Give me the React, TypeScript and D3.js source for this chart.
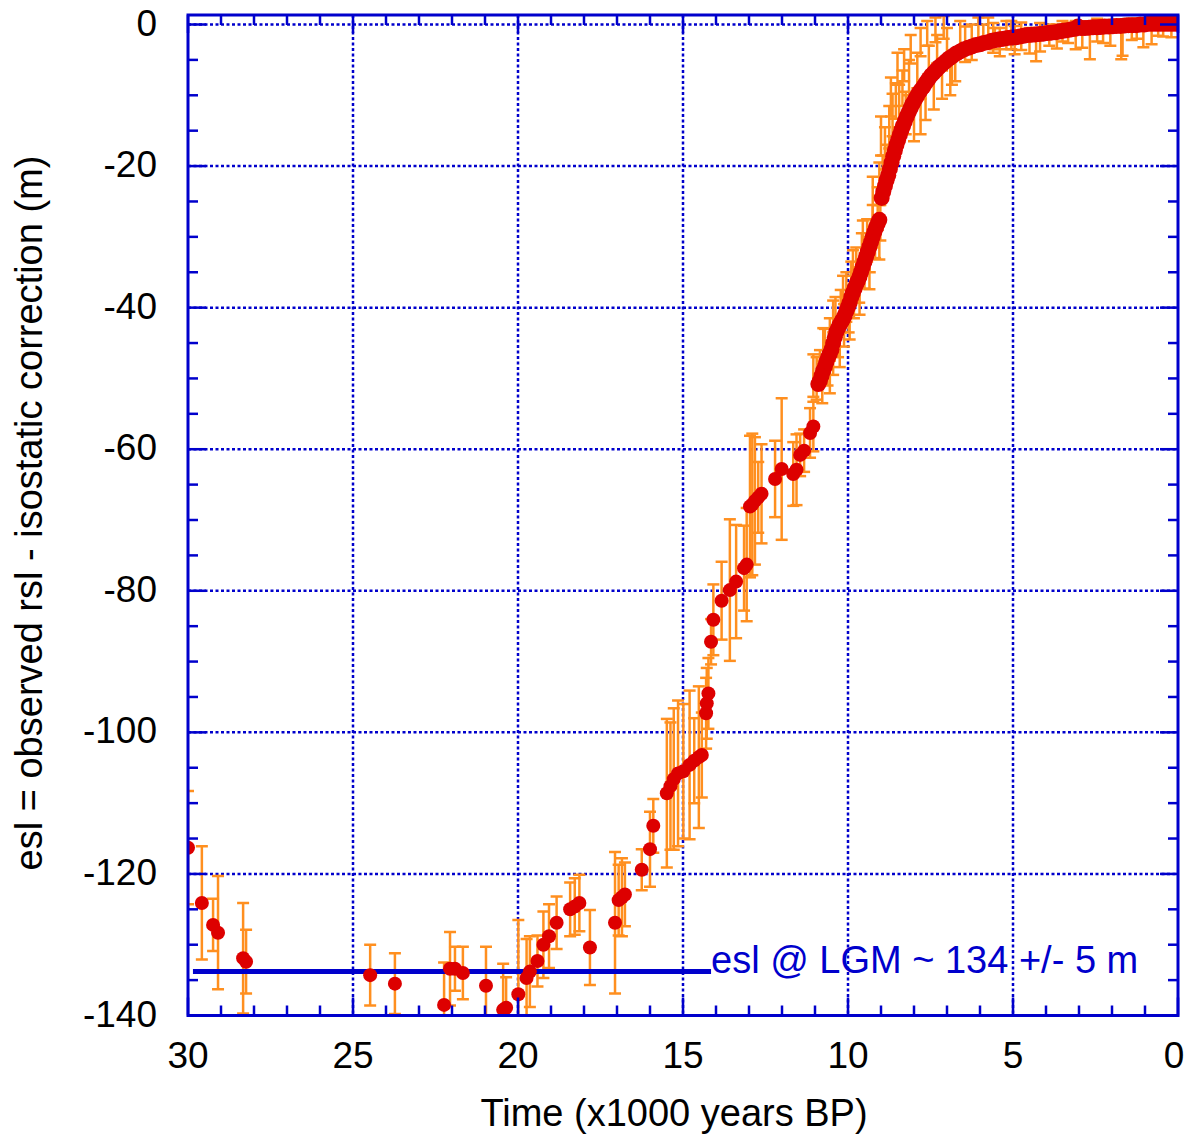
import React from "react";
import * as d3 from "d3";

// ---- Sparse data (dot + symmetric error bar) : age (kyr BP), esl (m), error (m)
const sparseAge = [30.0, 29.58, 29.24, 29.09, 28.33, 28.24, 24.48, 23.73, 22.24, 22.06, 21.91, 21.67, 20.97, 20.45, 20.36, 19.99, 19.74, 19.64, 19.41, 19.23, 19.06, 18.83, 18.42, 18.28, 18.14, 17.82, 17.06, 16.95, 16.85, 16.76, 16.25, 16.0, 15.9, 15.49, 15.38, 15.28, 15.15, 14.99, 14.8, 14.66, 14.52, 14.43, 14.3, 14.28, 14.23, 14.15, 14.08, 13.83, 13.58, 13.39, 13.15, 13.07, 12.97, 12.9, 12.82, 12.72, 12.62, 12.21, 12.01, 11.66, 11.56, 11.45, 11.33, 11.15, 11.05];
const sparseEsl = [-116.3, -124.1, -127.2, -128.3, -131.9, -132.4, -134.3, -135.5, -138.5, -133.4, -133.4, -134.0, -135.8, -139.2, -138.9, -137.0, -134.7, -133.8, -132.3, -130.0, -128.8, -126.9, -125.0, -124.6, -124.1, -130.4, -126.9, -123.7, -123.3, -122.9, -119.4, -116.5, -113.2, -108.6, -107.6, -106.6, -105.8, -105.5, -104.6, -104.0, -103.5, -103.2, -97.3, -95.9, -94.5, -87.2, -84.1, -81.4, -79.9, -78.7, -76.8, -76.3, -68.1, -67.8, -67.3, -66.8, -66.3, -64.2, -62.8, -63.5, -62.9, -60.8, -60.2, -57.7, -56.8];
const sparseErr = [8, 8, 3.7, 8, 7.8, 4.5, 4.3, 4.3, 6, 5.2, 3.1, 3.7, 5.5, 6.5, 4.3, 10.5, 5.5, 5, 3.6, 4.7, 4.5, 3.7, 3.8, 4, 4, 5.3, 10, 5, 5.5, 4.5, 2.9, 5.3, 3.8, 10.5, 9, 10, 10.3, 9.5, 10.5, 6, 10, 6, 5, 5, 5, 3.2, 5, 5.5, 10, 8, 6, 8, 10, 10, 9, 5, 7, 5.4, 10, 4.5, 5, 3, 3, 3.5, 3.5];

// ---- Dense Holocene / deglacial dots
const curveAge = [10.9, 10.85, 10.8, 10.75, 10.7, 10.65, 10.6, 10.55, 10.5, 10.45, 10.4, 10.35, 10.3, 10.25, 10.2, 10.15, 10.1, 10.05, 10.0, 9.95, 9.9, 9.85, 9.8, 9.75, 9.7, 9.65, 9.6, 9.55, 9.5, 9.45, 9.4, 9.35, 9.3, 9.25, 9.2, 9.15, 9.1, 9.05, 8.98, 8.93, 8.88, 8.83, 8.78, 8.73, 8.68, 8.63, 8.58, 8.53, 8.48, 8.43, 8.38, 8.33, 8.28, 8.22, 8.16, 8.1, 8.04, 7.98, 7.92, 7.86, 7.8, 7.72, 7.64, 7.56, 7.48, 7.4, 7.32, 7.24, 7.14, 7.04, 6.94, 6.84, 6.72, 6.6, 6.48, 6.36, 6.24, 6.12, 6.0, 5.88, 5.76, 5.64, 5.52, 5.4, 5.28, 5.16, 5.04, 4.92, 4.8, 4.68, 4.56, 4.44, 4.32, 4.2, 4.08, 3.96, 3.84, 3.72, 3.6, 3.48, 3.36, 3.24, 3.12, 3.03, 2.94, 2.82, 2.7, 2.58, 2.46, 2.34, 2.22, 2.1, 1.98, 1.86, 1.74, 1.62, 1.5, 1.38, 1.26, 1.14, 1.02, 0.9, 0.78, 0.66, 0.54, 0.42, 0.3, 0.18, 0.06];
const curveEsl = [-50.8, -50.3, -49.6, -48.9, -48.3, -47.6, -47.0, -46.5, -45.9, -45.0, -44.2, -43.4, -42.9, -42.4, -42.0, -41.6, -41.1, -40.5, -39.9, -39.3, -38.5, -37.9, -37.3, -36.7, -36.2, -35.6, -34.9, -34.2, -33.5, -32.8, -32.1, -31.4, -30.7, -30.0, -29.3, -28.7, -28.1, -27.6, -24.5, -23.6, -22.8, -22.0, -21.3, -20.4, -19.5, -18.6, -17.8, -17.0, -16.3, -15.6, -14.9, -14.3, -13.7, -13.0, -12.4, -11.8, -11.2, -10.7, -10.2, -9.7, -9.3, -8.8, -8.2, -7.7, -7.2, -6.8, -6.4, -6.0, -5.6, -5.2, -4.8, -4.5, -4.1, -3.8, -3.5, -3.3, -3.1, -2.9, -2.8, -2.6, -2.5, -2.3, -2.2, -2.1, -2.0, -1.9, -1.85, -1.8, -1.7, -1.6, -1.5, -1.45, -1.4, -1.35, -1.3, -1.2, -1.15, -1.1, -1.0, -0.9, -0.8, -0.7, -0.6, -0.3, -0.5, -0.5, -0.45, -0.4, -0.4, -0.35, -0.3, -0.3, -0.25, -0.2, -0.2, -0.15, -0.1, -0.1, -0.1, 0.0, 0.0, 0.1, 0.1, 0.1, 0.1, 0.1, 0.1, 0.1, 0.1];

// ---- Dense error bars (age, low end, high end)
const barAge = [10.95, 10.85, 10.78, 10.7, 10.62, 10.55, 10.45, 10.38, 10.3, 10.22, 10.12, 10.05, 9.98, 9.9, 9.82, 9.75, 9.66, 9.58, 9.5, 9.42, 9.34, 9.25, 9.18, 9.1, 9.02, 9.05, 8.95, 8.88, 8.8, 8.75, 8.65, 8.55, 8.45, 8.35, 8.25, 8.15, 8.0, 7.9, 7.8, 7.65, 7.55, 7.4, 7.3, 7.15, 7.0, 6.9, 6.75, 6.6, 6.45, 6.25, 6.05, 5.9, 5.75, 5.55, 5.4, 5.2, 4.95, 4.5, 4.3, 4.18, 3.9, 3.67, 3.33, 3.1, 2.67, 2.27, 1.72, 1.68, 1.4, 0.8, 0.45,
  11.05, 10.55, 10.75, 10.25, 10.45, 9.95, 10.15, 9.65, 9.85, 9.35, 9.55, 9.05, 9.25, 9.0, 8.7, 8.5, 8.3, 8.1, 7.8, 7.6, 7.35, 7.1, 6.85, 5.6, 5.05, 4.75, 3.5, 2.9, 2.45, 2.05, 1.25, 1.05, 0.6, 0.2];
const barLow = [-53.0, -51.0, -53.5, -50.0, -51.0, -47.5, -49.5, -45.5, -47.0, -43.5, -45.5, -42.0, -43.5, -39.5, -41.5, -37.5, -39.3, -35.5, -37.3, -33.5, -35.0, -31.5, -33.0, -29.0, -30.5, -25.5, -23.5, -20.5, -22.0, -17.5, -15.8, -13.3, -14.5, -11.5, -15.5, -10.0, -16.5, -9.0, -15.5, -13.5, -7.0, -12.0, -5.5, -10.5, -4.5, -10.0, -8.0, -3.5, -5.3, -5.0, -3.0, -3.0, -3.0, -3.5, -4.5, -3.5, -4.2, -4.1, -5.2, -3.8, -3.0, -3.4, -2.6, -3.5, -4.9, -2.6, -4.9, -4.4, -2.2, -2.8, -1.7,
  -52.6, -52.1, -48.9, -48.4, -45.0, -44.5, -41.5, -41.0, -37.9, -37.4, -33.7, -33.2, -27.5, -18.5, -13.0, -8.5, -8.0, -5.5, -4.5, -3.0, -2.5, -2.0, -8.5, -4.0, -3.5, -3.6, -2.4, -3.3, -2.4, -3.0, -2.0, -3.2, -1.6, -1.8];
const barHigh = [-47.0, -46.0, -47.5, -43.0, -46.0, -41.5, -43.5, -38.5, -42.0, -37.5, -39.5, -35.0, -38.5, -33.5, -35.5, -31.5, -34.3, -29.5, -32.3, -27.5, -30.0, -25.5, -28.0, -23.0, -25.5, -19.5, -18.5, -14.5, -17.0, -11.5, -9.8, -8.3, -8.5, -6.5, -9.5, -5.0, -11.5, -4.0, -10.5, -8.5, -3.0, -7.0, -1.5, -6.5, -0.5, -5.0, -4.0, 0.5, -0.3, 0.0, 1.0, 0.0, 1.0, -0.5, -0.5, 0.5, -0.2, -0.5, -0.5, 0.2, 0.0, 0.0, 0.2, 0.5, -1.2, 0.5, -0.5, 0.0, 0.8, 0.5, 0.8,
  -46.6, -47.1, -42.9, -43.4, -39.0, -39.5, -35.5, -36.0, -31.9, -32.4, -27.7, -28.2, -21.5, -13.0, -7.5, -4.0, -3.5, -1.5, -0.5, 0.5, 1.0, 1.2, -4.5, 0.2, 0.5, 0.3, 0.5, 0.4, 0.8, 0.5, 0.8, 0.6, 1.0, 0.9];

// ---- LGM reference line
const lgmStart = 29.85;
const lgmEnd = 14.15;
const lgmLevel = -133.8;
const lgmLabel = "esl @ LGM ~ 134 +/- 5 m";

const xMajorTicks = [30, 25, 20, 15, 10, 5, 0];
const yMajorTicks = [0, -20, -40, -60, -80, -100, -120, -140];

const BLUE = "#0000cc";
const ORANGE = "#ff8f1f";
const RED = "#dd0000";
const FONT = "'Liberation Sans', Arial, Helvetica, sans-serif";

export default function App() {
  const W = 1186, H = 1137;
  const left = 188, right = 1178, bottom = 1015.5, top = 15;
  const x = d3.scaleLinear().domain([30, 0]).range([left, right]);
  const y = d3.scaleLinear().domain([-140, 0]).range([bottom, 24.5]);

  const xMinor = d3.range(0, 31, 1).filter((v) => v % 5 !== 0);
  const yMinor = d3.range(-140, 1, 5).filter((v) => v % 20 !== 0);
  const majorLen = 18, minorLen = 10;

  const clip = (v: number) => Math.max(top, Math.min(bottom, v));
  const capW = 6;

  const bars: { t: number; lo: number; hi: number }[] = [];
  sparseAge.forEach((t, i) => bars.push({ t, lo: sparseEsl[i] - sparseErr[i], hi: sparseEsl[i] + sparseErr[i] }));
  barAge.forEach((t, i) => bars.push({ t, lo: barLow[i], hi: barHigh[i] }));

  const dots: { t: number; v: number; r: number }[] = [];
  sparseAge.forEach((t, i) => dots.push({ t, v: sparseEsl[i], r: 7 }));
  curveAge.forEach((t, i) => dots.push({ t, v: curveEsl[i], r: 8 }));

  return (
    <svg width={W} height={H} style={{ position: "absolute", left: 0, top: 0, display: "block", background: "#fff" }} fontFamily={FONT}>
      <defs>
        <clipPath id="plotclip">
          <rect x={left} y={top} width={right - left} height={bottom - top} />
        </clipPath>
      </defs>
      {/* grid */}
      <g stroke={BLUE} strokeWidth={2.5} strokeDasharray="3,2.5">
        {xMajorTicks.filter((t) => t !== 30 && t !== 0).map((t) => (
          <line key={"gx" + t} x1={x(t)} x2={x(t)} y1={top} y2={bottom} />
        ))}
        {yMajorTicks.filter((v) => v !== -140).map((v) => (
          <line key={"gy" + v} x1={left} x2={right} y1={y(v)} y2={y(v)} />
        ))}
      </g>
      {/* error bars */}
      <g clipPath="url(#plotclip)" stroke={ORANGE} strokeWidth={2.5}>
        {bars.map((b, i) => {
          const cx = x(b.t);
          const y1 = y(b.lo), y2 = y(b.hi);
          return (
            <g key={"b" + i}>
              <line x1={cx} x2={cx} y1={y1} y2={y2} />
              <line x1={cx - capW} x2={cx + capW} y1={y1} y2={y1} />
              <line x1={cx - capW} x2={cx + capW} y1={y2} y2={y2} />
            </g>
          );
        })}
      </g>
      {/* LGM line */}
      <line x1={x(lgmStart)} x2={x(lgmEnd)} y1={y(lgmLevel)} y2={y(lgmLevel)} stroke={BLUE} strokeWidth={5} />
      {/* dots */}
      <g clipPath="url(#plotclip)" fill={RED}>
        {dots.map((d, i) => (
          <circle key={"d" + i} cx={x(d.t)} cy={y(d.v)} r={d.r} />
        ))}
      </g>
      {/* ticks */}
      <g stroke={BLUE} strokeWidth={2.5}>
        {xMajorTicks.map((t) => (
          <g key={"xt" + t}>
            <line x1={x(t)} x2={x(t)} y1={bottom} y2={bottom - majorLen} />
            <line x1={x(t)} x2={x(t)} y1={top} y2={top + majorLen} />
          </g>
        ))}
        {xMinor.map((t) => (
          <g key={"xm" + t}>
            <line x1={x(t)} x2={x(t)} y1={bottom} y2={bottom - minorLen} />
            <line x1={x(t)} x2={x(t)} y1={top} y2={top + minorLen} />
          </g>
        ))}
        {yMajorTicks.map((v) => (
          <g key={"yt" + v}>
            <line x1={left} x2={left + majorLen} y1={y(v)} y2={y(v)} />
            <line x1={right} x2={right - majorLen} y1={y(v)} y2={y(v)} />
          </g>
        ))}
        {yMinor.map((v) => (
          <g key={"ym" + v}>
            <line x1={left} x2={left + minorLen} y1={y(v)} y2={y(v)} />
            <line x1={right} x2={right - minorLen} y1={y(v)} y2={y(v)} />
          </g>
        ))}
      </g>
      {/* border */}
      <rect x={left} y={top} width={right - left} height={bottom - top} fill="none" stroke={BLUE} strokeWidth={3} />
      {/* tick labels */}
      <g fontSize={37} fill="#000">
        {xMajorTicks.map((t) => (
          <text key={"xl" + t} x={Math.min(x(t), W - 12)} y={1068} textAnchor="middle">{t}</text>
        ))}
        {yMajorTicks.map((v) => (
          <text key={"yl" + v} x={157} y={clip(y(v)) + 11} textAnchor="end">{v}</text>
        ))}
      </g>
      {/* axis titles */}
      <text x={674} y={1126} fontSize={38} textAnchor="middle" fill="#000">Time (x1000 years BP)</text>
      <text transform={`translate(42,513) rotate(-90)`} fontSize={38} textAnchor="middle" fill="#000">
        esl = observed rsl - isostatic correction (m)
      </text>
      {/* annotation */}
      <text x={x(lgmEnd)} y={973} fontSize={38} fill={BLUE}>{lgmLabel}</text>
    </svg>
  );
}
